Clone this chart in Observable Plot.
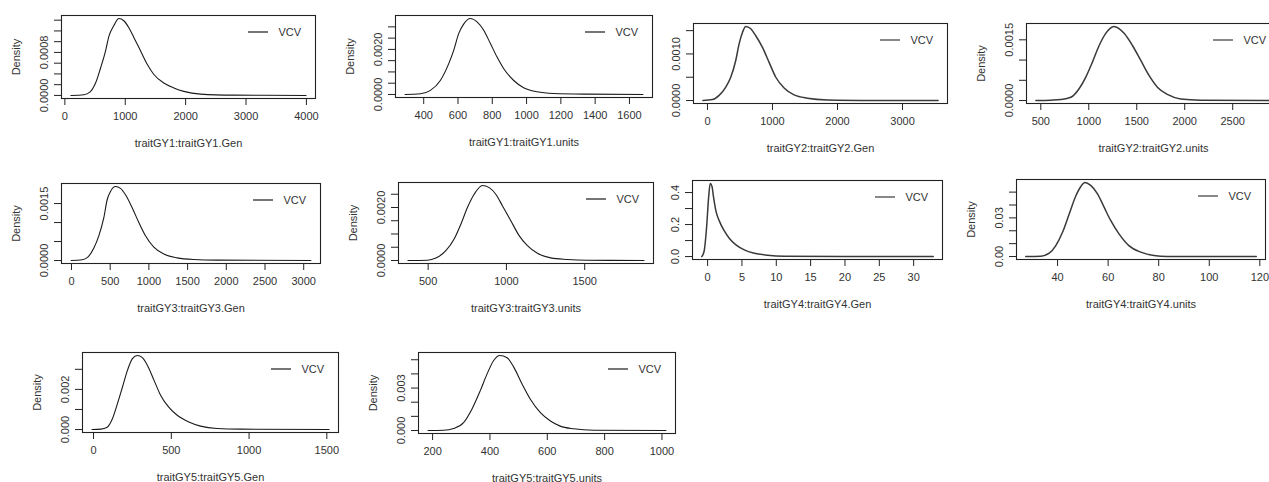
<!DOCTYPE html>
<html>
<head>
<meta charset="utf-8">
<script src="https://cdn.jsdelivr.net/npm/d3@7"></script>
<script src="https://cdn.jsdelivr.net/npm/@observablehq/plot@0.6"></script>
<style>
html, body { margin: 0; padding: 0; background: #fff; }
#chart { position: relative; width: 1269px; height: 482px; overflow: hidden; background: #fff; }
#chart .panel { position: absolute; }
</style>
</head>
<body>
<div id="chart"></div>
<script>
// ---------- data ----------
const titles = [
  "traitGY1:traitGY1.Gen", "traitGY1:traitGY1.units",
  "traitGY2:traitGY2.Gen", "traitGY2:traitGY2.units",
  "traitGY3:traitGY3.Gen", "traitGY3:traitGY3.units",
  "traitGY4:traitGY4.Gen", "traitGY4:traitGY4.units",
  "traitGY5:traitGY5.Gen", "traitGY5:traitGY5.units"
];
const legendLabel = "VCV";
const yTitle = "Density";

const gy1GenX = [100, 315, 414, 508, 591, 674, 729, 811, 894, 977, 1060, 1142, 1253, 1364, 1474, 1639, 1805, 1970, 2247, 2798, 3995];
const gy1GenY = [0, 0.000012, 0.00006, 0.00023, 0.00051, 0.00083, 0.00110, 0.00130, 0.00143, 0.00139, 0.00126, 0.00108, 0.00083, 0.00058, 0.00039, 0.00023, 0.00014, 0.000075, 0.000025, 0.000006, 0];

const gy1UnitsX = [291, 381, 439, 497, 546, 575, 604, 633, 672, 711, 750, 789, 828, 867, 925, 983, 1061, 1158, 1353, 1679];
const gy1UnitsY = [0, 0.00003, 0.00018, 0.00062, 0.00137, 0.00196, 0.0027, 0.00312, 0.00337, 0.00322, 0.00285, 0.00226, 0.00166, 0.00114, 0.00062, 0.0003, 0.00012, 0.000045, 0.000015, 0];

const gy2GenX = [-70, 77, 179, 282, 358, 435, 486, 538, 589, 666, 743, 846, 948, 1051, 1179, 1332, 1538, 1846, 2563, 3547];
const gy2GenY = [0, 0.00002, 0.00011, 0.00029, 0.0005, 0.00086, 0.00121, 0.00146, 0.00159, 0.00154, 0.00139, 0.00114, 0.00082, 0.0005, 0.00027, 0.00012, 0.00005, 0.000014, 0.000003, 0];

const gy2UnitsX = [449, 604, 708, 813, 899, 969, 1038, 1108, 1177, 1262, 1368, 1455, 1542, 1628, 1715, 1819, 1958, 2167, 2900];
const gy2UnitsY = [0, 0.00001, 0.000025, 0.00008, 0.00029, 0.00058, 0.00095, 0.00136, 0.00166, 0.00183, 0.00166, 0.00136, 0.00099, 0.00062, 0.00033, 0.00015, 0.00004, 0.00001, 0];

const gy3GenX = [-5, 138, 211, 289, 353, 418, 461, 504, 568, 633, 698, 784, 870, 956, 1064, 1193, 1365, 1580, 1882, 3093];
const gy3GenY = [0, 0.00002, 0.00009, 0.00033, 0.00065, 0.00113, 0.0016, 0.00182, 0.00195, 0.00190, 0.00173, 0.00139, 0.00100, 0.00065, 0.00035, 0.00017, 0.00007, 0.000026, 0.00001, 0];

const gy3UnitsX = [371, 496, 549, 613, 666, 709, 751, 794, 847, 890, 932, 975, 1028, 1081, 1134, 1198, 1283, 1389, 1517, 1879];
const gy3UnitsY = [0, 0.00001, 0.00009, 0.00037, 0.00081, 0.00137, 0.0020, 0.0025, 0.00283, 0.00275, 0.0025, 0.00206, 0.0015, 0.00094, 0.00056, 0.00027, 0.0001, 0.00004, 0.00001, 0];

const gy4GenX = [-0.85, -0.5, -0.15, 0.15, 0.38, 0.63, 0.87, 1.21, 1.7, 2.43, 3.15, 4.13, 5.34, 6.8, 8.75, 11.2, 20, 32.85];
const gy4GenY = [0, 0.035, 0.18, 0.37, 0.457, 0.44, 0.37, 0.285, 0.223, 0.16, 0.115, 0.073, 0.042, 0.021, 0.008, 0.002, 0.0002, 0];

const gy4UnitsX = [27.4, 33.4, 36.7, 39.3, 42.0, 44.6, 47.2, 49.2, 50.8, 53.1, 55.8, 58.4, 61.0, 64.3, 68.2, 72.9, 78.1, 83.4, 118.6];
const gy4UnitsY = [0, 0.0003, 0.0026, 0.0085, 0.019, 0.033, 0.047, 0.0544, 0.0575, 0.0552, 0.0487, 0.0383, 0.028, 0.0176, 0.0085, 0.0034, 0.0008, 0.0001, 0];

const gy5GenX = [-10, 47, 85, 122, 154, 186, 218, 250, 282, 314, 346, 389, 431, 485, 538, 613, 688, 795, 944, 1514];
const gy5GenY = [0, 0.00002, 0.0001, 0.00055, 0.0013, 0.00212, 0.00295, 0.00353, 0.00369, 0.00358, 0.0032, 0.00245, 0.00171, 0.0011, 0.00071, 0.00038, 0.00017, 0.00005, 0.00002, 0];

const gy5UnitsX = [184, 238, 273, 308, 337, 366, 390, 413, 434, 460, 483, 512, 541, 576, 611, 645, 692, 762, 1014];
const gy5UnitsY = [0, 0.00002, 0.00014, 0.00055, 0.0015, 0.0028, 0.0040, 0.00495, 0.0053, 0.00514, 0.00448, 0.00329, 0.00221, 0.00126, 0.00067, 0.00031, 0.00012, 0.00002, 0];

// tick values
const xTicks = [
  [0, 1000, 2000, 3000, 4000],
  [400, 600, 800, 1000, 1200, 1400, 1600],
  [0, 1000, 2000, 3000],
  [500, 1000, 1500, 2000, 2500],
  [0, 500, 1000, 1500, 2000, 2500, 3000],
  [500, 1000, 1500],
  [0, 5, 10, 15, 20, 25, 30],
  [40, 60, 80, 100, 120],
  [0, 500, 1000, 1500],
  [200, 400, 600, 800, 1000]
];
const yTicks = [
  [0, 0.0002, 0.0004, 0.0006, 0.0008, 0.0010, 0.0012, 0.0014],
  [0, 0.0005, 0.0010, 0.0015, 0.0020, 0.0025, 0.0030],
  [0, 0.0005, 0.0010, 0.0015],
  [0, 0.0005, 0.0010, 0.0015],
  [0, 0.0005, 0.0010, 0.0015],
  [0, 0.0005, 0.0010, 0.0015, 0.0020, 0.0025],
  [0, 0.1, 0.2, 0.3, 0.4],
  [0, 0.01, 0.02, 0.03, 0.04, 0.05],
  [0, 0.001, 0.002, 0.003],
  [0, 0.001, 0.002, 0.003, 0.004, 0.005]
];
const yTickLabels = [
  [0, 0.0008], [0, 0.0020], [0, 0.0010], [0, 0.0015], [0, 0.0015],
  [0, 0.0020], [0, 0.2, 0.4], [0, 0.03], [0, 0.002], [0, 0.003]
];

const seriesX = [gy1GenX, gy1UnitsX, gy2GenX, gy2UnitsX, gy3GenX, gy3UnitsX, gy4GenX, gy4UnitsX, gy5GenX, gy5UnitsX];
const seriesY = [gy1GenY, gy1UnitsY, gy2GenY, gy2UnitsY, gy3GenY, gy3UnitsY, gy4GenY, gy4UnitsY, gy5GenY, gy5UnitsY];

// ---------- layout & style (plot box: left, top, width, height) ----------
const layout = [
  {box: [61, 15, 254, 83],  ylab: true,  yfmt: ".4f", lw: 1.1, col: "#1a1a1a"},
  {box: [395, 15, 257, 82], ylab: true,  yfmt: ".4f", lw: 1.1, col: "#1a1a1a"},
  {box: [693, 23, 254, 80], ylab: false, yfmt: ".4f", lw: 1.5, col: "#3a3a3a"},
  {box: [1026, 23, 254, 80], ylab: true, yfmt: ".4f", lw: 1.5, col: "#3a3a3a"},
  {box: [61, 183, 259, 80], ylab: true,  yfmt: ".4f", lw: 1.1, col: "#1a1a1a"},
  {box: [398, 182, 255, 81], ylab: true, yfmt: ".4f", lw: 1.1, col: "#1a1a1a"},
  {box: [692, 180, 250, 79], ylab: false, yfmt: ".1f", lw: 1.5, col: "#3a3a3a"},
  {box: [1016, 179, 249, 80], ylab: true, yfmt: ".2f", lw: 1.5, col: "#3a3a3a"},
  {box: [82, 352, 256, 80], ylab: true,  yfmt: ".3f", lw: 1.1, col: "#1a1a1a"},
  {box: [418, 352, 257, 81], ylab: true, yfmt: ".3f", lw: 1.1, col: "#1a1a1a"}
];
const ML = 62, MR = 12, MT = 10, MB = 62;
const FONT = "'Liberation Sans', Arial, Helvetica, sans-serif";

function legendMark(colour) {
  return (index, scales, values, dims) => {
    const g = d3.create("svg:g");
    const R = dims.width - dims.marginRight, T = dims.marginTop;
    g.append("line")
      .attr("x1", R - 67).attr("x2", R - 47)
      .attr("y1", T + 17).attr("y2", T + 17)
      .attr("stroke", colour).attr("stroke-width", 1.2);
    g.append("text")
      .attr("x", R - 14).attr("y", T + 17).attr("dy", "0.35em")
      .attr("text-anchor", "end").attr("fill", "#333")
      .attr("font-family", FONT).attr("font-size", 11)
      .text(legendLabel);
    return g.node();
  };
}

const chart = document.getElementById("chart");

titles.forEach((title, i) => {
  const xs = seriesX[i], ys = seriesY[i];
  const L = layout[i];
  const [bl, bt, bw, bh] = L.box;
  const xmin = d3.min(xs), xmax = d3.max(xs), ymax = d3.max(ys);
  const xr = xmax - xmin;
  const data = xs.map((x, k) => ({x, y: ys[k]}));
  const fmt = d3.format(L.yfmt);
  const labeled = yTickLabels[i];

  const svg = Plot.plot({
    width: bw + ML + MR,
    height: bh + MT + MB,
    marginLeft: ML, marginRight: MR, marginTop: MT, marginBottom: MB,
    style: {fontFamily: FONT, fontSize: "11px", color: "#333", background: "transparent", overflow: "visible"},
    x: {domain: [xmin - 0.04 * xr, xmax + 0.04 * xr]},
    y: {domain: [-0.04 * ymax, 1.04 * ymax]},
    marks: [
      Plot.axisX({
        ticks: xTicks[i], tickSize: 7, tickPadding: 7, tickFormat: d3.format("d"),
        label: title, labelAnchor: "center", labelOffset: 48, labelArrow: "none", stroke: "#222"
      }),
      Plot.axisY({
        ticks: yTicks[i], tickSize: 7, tickPadding: 7, tickRotate: -90,
        tickFormat: d => labeled.includes(d) ? fmt(d) : "",
        label: L.ylab ? yTitle : null, labelAnchor: "center", labelOffset: 49, labelArrow: "none", stroke: "#222"
      }),
      Plot.line(data, {x: "x", y: "y", curve: "monotone-x", stroke: L.col, strokeWidth: L.lw}),
      Plot.frame({stroke: "#222", strokeWidth: 1.1}),
      legendMark(L.col)
    ]
  });
  svg.classList.add("panel");
  svg.style.left = (bl - ML) + "px";
  svg.style.top = (bt - MT) + "px";
  chart.appendChild(svg);
});
</script>
</body>
</html>
